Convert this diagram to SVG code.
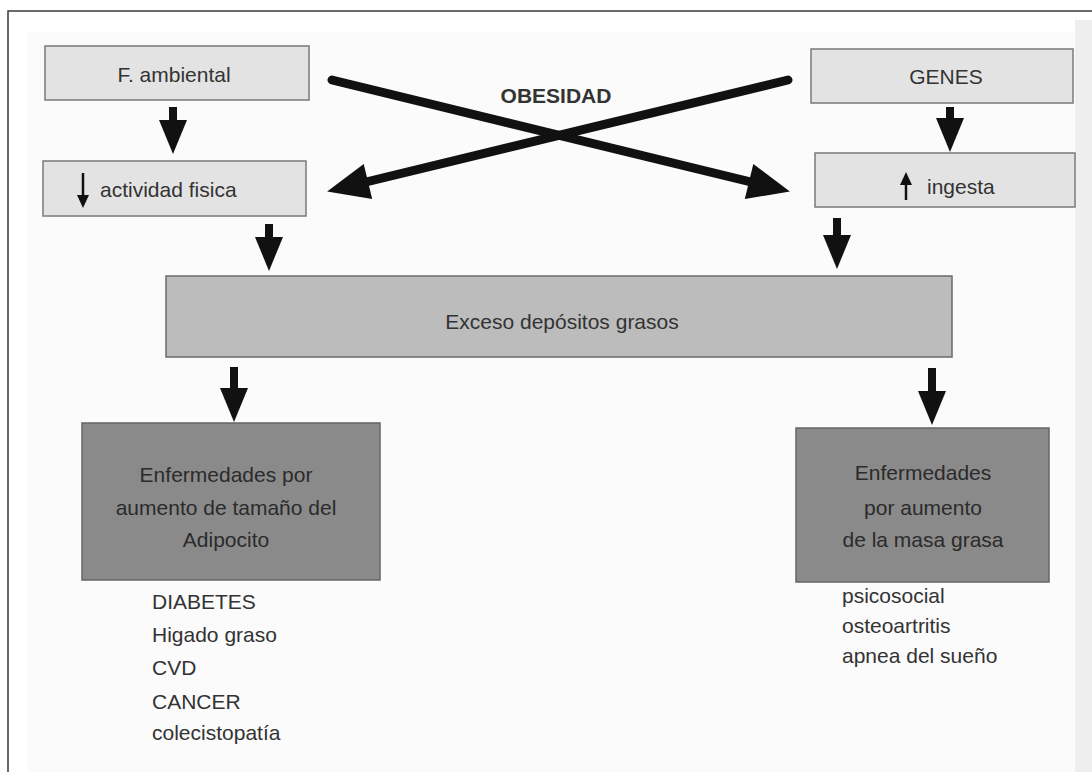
<svg xmlns="http://www.w3.org/2000/svg" width="1092" height="772" viewBox="0 0 1092 772">
  <style>
    text { font-family: "Liberation Sans", Arial, sans-serif; font-size: 21px; fill: #333; }
    .mid { text-anchor: middle; }
    .light { fill: #e3e3e3; stroke: #7a7a7a; stroke-width: 1.5; }
    .medium { fill: #bcbcbc; stroke: #6a6a6a; stroke-width: 1.5; }
    .dark { fill: #8a8a8a; stroke: #666; stroke-width: 1.5; }
    .dark-text { fill: #2b2b2b; }
    .shaft { stroke: #111; stroke-width: 8; fill: none; }
    .cross { stroke: #111; stroke-width: 9; fill: none; stroke-linecap: round; }
    .thin { stroke: #111; stroke-width: 2.5; fill: none; }
    .tip { fill: #111; }
  </style>
  <defs>
    <marker id="head" markerUnits="userSpaceOnUse" markerWidth="36" markerHeight="28" refX="2" refY="14" orient="auto" overflow="visible">
      <path class="tip" d="M0,0 L34,14 L0,28 Z"/>
    </marker>
    <marker id="bighead" markerUnits="userSpaceOnUse" markerWidth="44" markerHeight="36" refX="2" refY="18" orient="auto" overflow="visible">
      <path class="tip" d="M0,0 L42,18 L0,36 Z"/>
    </marker>
    <marker id="smallhead" markerUnits="userSpaceOnUse" markerWidth="14" markerHeight="12" refX="1" refY="6" orient="auto" overflow="visible">
      <path class="tip" d="M0,0 L13,6 L0,12 Z"/>
    </marker>
  </defs>

  <!-- page background and frame -->
  <rect x="0" y="0" width="1092" height="772" fill="#ffffff"/>
  <rect x="27" y="32" width="1048" height="740" fill="#fbfbfb"/>
  <rect x="1075" y="20" width="17" height="752" fill="#eeeeee"/>
  <path d="M8,772 L8,11 L1092,11" fill="none" stroke="#3a3a3a" stroke-width="1.5"/>

  <!-- nodes -->
  <g id="f-ambiental">
    <rect class="light" x="45" y="46" width="264" height="54"/>
    <text class="mid" x="174" y="82">F. ambiental</text>
  </g>

  <g id="actividad-fisica">
    <rect class="light" x="43" y="161" width="263" height="55"/>
    <line class="thin" x1="83" y1="173" x2="83" y2="196" marker-end="url(#smallhead)"/>
    <text x="100" y="197">actividad fisica</text>
  </g>

  <g id="genes">
    <rect class="light" x="811" y="49" width="262" height="54"/>
    <text class="mid" x="946" y="84">GENES</text>
  </g>

  <g id="ingesta">
    <rect class="light" x="815" y="153" width="260" height="54"/>
    <line class="thin" x1="906" y1="200" x2="906" y2="184" marker-end="url(#smallhead)"/>
    <text x="927" y="194">ingesta</text>
  </g>

  <g id="obesidad">
    <text class="mid" x="556" y="103" font-weight="bold" font-size="20">OBESIDAD</text>
  </g>

  <g id="exceso">
    <rect class="medium" x="166" y="276" width="786" height="81"/>
    <text class="mid" x="562" y="329" font-size="22">Exceso depósitos grasos</text>
  </g>

  <g id="adipocito">
    <rect class="dark" x="82" y="423" width="298" height="157"/>
    <text class="mid dark-text" x="226" y="482" font-size="22">Enfermedades por</text>
    <text class="mid dark-text" x="226" y="515" font-size="22">aumento de tamaño del</text>
    <text class="mid dark-text" x="226" y="547" font-size="22">Adipocito</text>
  </g>

  <g id="masa-grasa">
    <rect class="dark" x="796" y="428" width="253" height="154"/>
    <text class="mid dark-text" x="923" y="480" font-size="22">Enfermedades</text>
    <text class="mid dark-text" x="923" y="515" font-size="22">por aumento</text>
    <text class="mid dark-text" x="923" y="547" font-size="22">de la masa grasa</text>
  </g>

  <g id="lista-adipocito">
    <text x="152" y="609">DIABETES</text>
    <text x="152" y="642">Higado graso</text>
    <text x="152" y="675">CVD</text>
    <text x="152" y="709">CANCER</text>
    <text x="152" y="740">colecistopatía</text>
  </g>

  <g id="lista-masa">
    <text x="842" y="603">psicosocial</text>
    <text x="842" y="633">osteoartritis</text>
    <text x="842" y="663">apnea del sueño</text>
  </g>

  <!-- connectors -->
  <g id="connectors">
    <line class="shaft" x1="173" y1="107" x2="173" y2="122" marker-end="url(#head)"/>
    <line class="shaft" x1="950" y1="107" x2="950" y2="120" marker-end="url(#head)"/>
    <line class="shaft" x1="269" y1="224" x2="269" y2="239" marker-end="url(#head)"/>
    <line class="shaft" x1="837" y1="218" x2="837" y2="237" marker-end="url(#head)"/>
    <line class="shaft" x1="234" y1="367" x2="234" y2="390" marker-end="url(#head)"/>
    <line class="shaft" x1="932" y1="368" x2="932" y2="393" marker-end="url(#head)"/>
    <line class="cross" x1="332" y1="80" x2="751" y2="182" marker-end="url(#bighead)"/>
    <line class="cross" x1="788" y1="80" x2="366" y2="182" marker-end="url(#bighead)"/>
  </g>
</svg>
